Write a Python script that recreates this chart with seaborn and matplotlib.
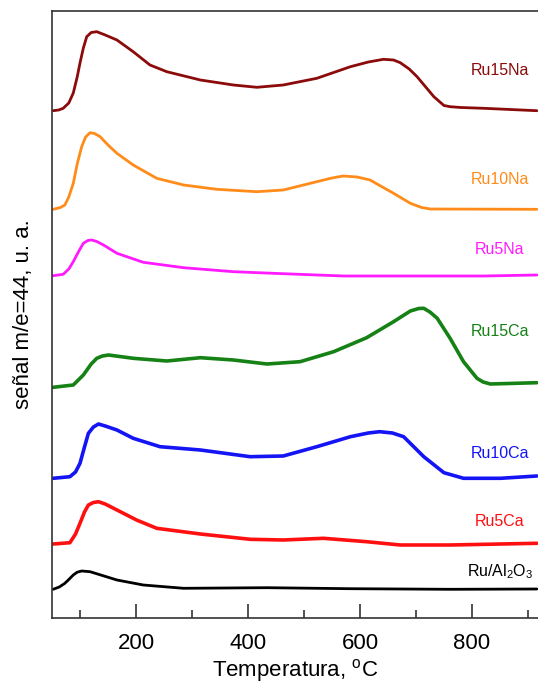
import matplotlib
matplotlib.use("Agg")
import matplotlib.pyplot as plt
import seaborn as sns
import pandas as pd
from matplotlib.ticker import MultipleLocator

# ---- data (temperature in C, signal in arbitrary units, already offset/stacked) ----
t_ru15na = [52, 62, 70, 80, 88, 95, 100, 106, 112, 120, 130, 145, 166, 195, 225, 255, 315, 374, 416, 463, 523, 583, 615, 642, 660, 672, 688, 702, 732, 750, 761, 780, 821, 916]
s_ru15na = [507.3, 508, 509.7, 515, 525, 541, 555, 570, 581.3, 585.5, 586.3, 583, 578, 566.3, 553, 546.3, 538, 533, 530.7, 533, 539.7, 551.3, 556, 558.7, 558, 555.3, 549, 541.3, 521.3, 512.5, 511.3, 510.5, 509.7, 507.3]

t_ru10na = [52, 65, 73, 80, 88, 95, 103, 110, 118, 126, 136, 150, 166, 195, 237, 285, 344, 416, 463, 523, 550, 570, 595, 618, 660, 690, 710, 726, 916]
s_ru10na = [408.7, 410.5, 413, 421, 434.7, 454, 471.3, 481, 485.3, 484.5, 481.3, 473, 464.7, 453, 439.7, 433, 428.7, 426.3, 428, 436.3, 440, 442, 441, 438, 424.7, 414.7, 410.5, 409, 408.7]

t_ru5na = [52, 70, 80, 88, 98, 106, 114, 121, 130, 142, 166, 213, 285, 374, 463, 571, 702, 821, 916]
s_ru5na = [342.3, 343.7, 349, 356.3, 367, 374.7, 377.5, 378, 376.5, 373, 364.7, 355.7, 350.3, 346.3, 344.3, 342, 342, 342, 343]

t_ru15ca = [52, 88, 106, 120, 130, 140, 151, 195, 255, 315, 374, 434, 493, 553, 612, 660, 690, 705, 714, 725, 738, 761, 785, 809, 820, 833, 916]
s_ru15ca = [230.7, 233, 243, 254, 259.7, 262, 263, 259.7, 257, 260.3, 258, 254, 256.3, 266.3, 280.3, 296.3, 307, 309.5, 309.7, 306, 299.7, 279.7, 256.3, 239.7, 236, 234, 235.3]

t_ru10ca = [52, 82, 92, 100, 108, 115, 124, 133, 145, 166, 195, 243, 315, 404, 463, 523, 583, 615, 635, 658, 678, 714, 750, 785, 851, 916]
s_ru10ca = [139.7, 141.3, 146, 154.7, 171, 184.7, 191, 194, 192, 188, 179.7, 171.3, 168, 161.3, 162, 171.3, 181.3, 185, 186.3, 185, 181.3, 161.3, 145.3, 139.7, 139.7, 142]

t_ru5ca = [52, 82, 92, 100, 108, 115, 124, 133, 145, 166, 201, 237, 315, 404, 463, 535, 612, 672, 761, 916]
s_ru5ca = [74, 75.3, 84, 94.7, 106, 113, 115.5, 116.3, 114, 108, 98, 89.7, 84, 78.7, 78, 79.7, 76.3, 73, 73, 74.7]

t_rual = [52, 63, 73, 80, 88, 95, 103, 118, 140, 166, 213, 285, 434, 583, 761, 916]
s_rual = [28.7, 31, 34.7, 38.5, 43, 45.8, 47, 46.3, 42.5, 38, 33, 29.7, 30.3, 29.3, 28.7, 29]

labels = ["Ru15Na", "Ru10Na", "Ru5Na", "Ru15Ca", "Ru10Ca", "Ru5Ca", "Ru/Al$_2$O$_3$"]
colors = ["#8B0A0A", "#FF8C1A", "#FF1AFF", "#168216", "#1414F5", "#FF1010", "#000000"]
label_y = [547.3, 439, 369, 287, 165, 96.3, 46.3]
series_t = [t_ru15na, t_ru10na, t_ru5na, t_ru15ca, t_ru10ca, t_ru5ca, t_rual]
series_s = [s_ru15na, s_ru10na, s_ru5na, s_ru15ca, s_ru10ca, s_ru5ca, s_rual]
widths = [2.0, 2.0, 2.0, 2.6, 2.6, 2.6, 2.0]

sns.set_theme(style="ticks")
plt.rcParams["font.family"] = ["Liberation Sans", "DejaVu Sans"]
plt.rcParams["mathtext.fontset"] = "custom"
plt.rcParams["mathtext.rm"] = "Liberation Sans"
plt.rcParams["mathtext.it"] = "Liberation Sans:italic"
plt.rcParams["mathtext.default"] = "regular"
plt.rcParams["text.color"] = "black"
plt.rcParams["axes.labelcolor"] = "black"
plt.rcParams["xtick.color"] = "black"
plt.rcParams["xtick.labelcolor"] = "black"

fig = plt.figure(figsize=(5.38, 6.86), dpi=100)
ax = fig.add_axes([52 / 538, 68 / 686, 1 - 52 / 538, 607 / 686])

for lab, col, t, s, lw in zip(labels, colors, series_t, series_s, widths):
    df = pd.DataFrame({"T": t, "S": s})
    sns.lineplot(data=df, x="T", y="S", color=col, linewidth=lw, ax=ax, sort=False)

for lab, col, ly in zip(labels, colors, label_y):
    ax.text(850, ly, lab, color=col, fontsize=11.5, ha="center", va="center")

ax.set_xlim(50, 918)
ax.set_ylim(0, 607)
ax.set_yticks([])
ax.xaxis.set_major_locator(MultipleLocator(200))
ax.xaxis.set_minor_locator(MultipleLocator(100))
ax.tick_params(axis="x", which="major", direction="in", length=10, width=1.1,
               labelsize=16, pad=11, color="#222222", top=False)
ax.tick_params(axis="x", which="minor", direction="in", length=5.5, width=1.1,
               color="#222222", top=False)
ax.spines["right"].set_visible(False)
for sp in ["left", "bottom", "top"]:
    ax.spines[sp].set_linewidth(1.2)
    ax.spines[sp].set_color("#333333")

ax.set_xlabel("Temperatura, $^{o}$C", fontsize=16, labelpad=2)
ax.set_ylabel("señal m/e=44, u. a.", fontsize=16, labelpad=13)

fig.savefig("out.png", dpi=100)
